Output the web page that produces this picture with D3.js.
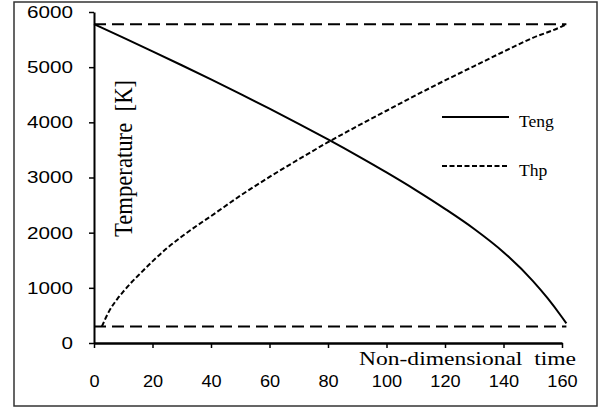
<!DOCTYPE html>
<html lang="en">
<head>
  <meta charset="UTF-8">
  <script src="https://d3js.org/d3.v7.min.js"></script>
  <style>
    body {
      margin: 0;
      background: #ffffff;
    }
    .tick-label {
      font-family: "Liberation Sans", Arial, sans-serif;
      font-size: 16.8px;
      fill: #000;
    }
    .serif {
      font-family: "Liberation Serif", "Times New Roman", serif;
      fill: #000;
    }
  </style>
</head>
<body>
  <div id="chart"></div>
  <script>
    // data
    const tengTime = [0, 10, 20, 30, 40, 50, 60, 70, 80, 90, 100, 110, 120, 130, 140, 150, 155, 160, 161.5];
    const tengTemp = [5780, 5535, 5287, 5035, 4778, 4516, 4248, 3973, 3690, 3397, 3092, 2772, 2432, 2067, 1647, 1127, 817, 467, 355];

    const thpTime = [2.7, 5, 8, 10, 13, 16, 20, 25, 30, 35, 40, 50, 60, 70, 80, 90, 100, 110, 120, 130, 140, 150, 160, 161.5];
    const thpTemp = [300, 560, 800, 930, 1110, 1270, 1480, 1720, 1930, 2120, 2300, 2670, 3010, 3330, 3640, 3930, 4210, 4490, 4760, 5020, 5280, 5530, 5740, 5780];

    const limitTime = [0, 161.5];
    const sourceTemp = 5780;
    const ambientTemp = 300;

    const xTicks = [0, 20, 40, 60, 80, 100, 120, 140, 160];
    const yTicks = [0, 1000, 2000, 3000, 4000, 5000, 6000];

    const legendNames = ["Teng", "Thp"];

    const width = 605;
    const height = 408;

    const svg = d3.select("#chart")
      .append("svg")
      .attr("width", width)
      .attr("height", height);

    // outer frame
    svg.append("rect")
      .attr("x", 14)
      .attr("y", 2)
      .attr("width", 583)
      .attr("height", 404)
      .attr("fill", "#fff")
      .attr("stroke", "#333")
      .attr("stroke-width", 1.5);

    const x = d3.scaleLinear().domain([0, 160]).range([94, 562]);
    const y = d3.scaleLinear().domain([0, 6000]).range([343, 12]);

    const line = d3.line()
      .x(d => x(d[0]))
      .y(d => y(d[1]))
      .curve(d3.curveMonotoneX);

    // horizontal reference levels
    [sourceTemp, ambientTemp].forEach(level => {
      svg.append("path")
        .datum(limitTime.map(t => [t, level]))
        .attr("d", line)
        .attr("fill", "none")
        .attr("stroke", "#000")
        .attr("stroke-width", 2)
        .attr("stroke-dasharray", "12,6");
    });

    // Teng curve
    svg.append("path")
      .datum(tengTime.map((t, i) => [t, tengTemp[i]]))
      .attr("d", line)
      .attr("fill", "none")
      .attr("stroke", "#000")
      .attr("stroke-width", 2);

    // Thp curve
    svg.append("path")
      .datum(thpTime.map((t, i) => [t, thpTemp[i]]))
      .attr("d", line)
      .attr("fill", "none")
      .attr("stroke", "#000")
      .attr("stroke-width", 2)
      .attr("stroke-dasharray", "5,2.5");

    // axes
    const xAxis = svg.append("g")
      .attr("transform", `translate(0,${y(0)})`)
      .call(d3.axisBottom(x).tickValues(xTicks).tickSize(5).tickSizeOuter(0).tickPadding(27));
    xAxis.select(".domain").attr("stroke", "#000").attr("stroke-width", 2.5);
    xAxis.selectAll(".tick line").attr("stroke", "#000").attr("stroke-width", 1.5);
    xAxis.selectAll(".tick text")
      .attr("class", "tick-label")
      .attr("lengthAdjust", "spacingAndGlyphs")
      .each(function () {
        const n = this.textContent.length;
        d3.select(this).attr("textLength", n * 10.1);
      });

    const yAxis = svg.append("g")
      .attr("transform", `translate(${x(0)},0)`)
      .call(d3.axisLeft(y).tickValues(yTicks).tickFormat(d3.format("d"))
        .tickSize(5).tickSizeOuter(0).tickPadding(16));
    yAxis.select(".domain").attr("stroke", "#000").attr("stroke-width", 2);
    yAxis.selectAll(".tick line").attr("stroke", "#000").attr("stroke-width", 1.5);
    yAxis.selectAll(".tick text")
      .attr("class", "tick-label")
      .attr("lengthAdjust", "spacingAndGlyphs")
      .each(function () {
        const n = this.textContent.length;
        d3.select(this).attr("textLength", n * 11.5);
      });
    svg.selectAll("g").attr("font-size", null).attr("font-family", null);

    // axis titles
    svg.append("text")
      .attr("class", "serif")
      .attr("x", 576)
      .attr("y", 365)
      .attr("text-anchor", "end")
      .attr("font-size", 19)
      .attr("textLength", 217)
      .attr("lengthAdjust", "spacingAndGlyphs")
      .style("white-space", "pre")
      .text("Non-dimensional  time");

    svg.append("text")
      .attr("class", "serif")
      .attr("transform", "translate(132,158.5) rotate(-90) scale(1,1.13)")
      .attr("text-anchor", "middle")
      .attr("font-size", 22.7)
      .style("white-space", "pre")
      .text("Temperature  [K]");

    // legend
    const legend = svg.append("g");
    const legendY = [117, 166];
    const legendDash = [null, "5,2.5"];
    legendNames.forEach((name, i) => {
      legend.append("line")
        .attr("x1", 442)
        .attr("x2", 509)
        .attr("y1", legendY[i])
        .attr("y2", legendY[i])
        .attr("stroke", "#000")
        .attr("stroke-width", 2)
        .attr("stroke-dasharray", legendDash[i]);
      legend.append("text")
        .attr("class", "serif")
        .attr("x", 519)
        .attr("y", legendY[i] + 10)
        .attr("font-size", 17.6)
        .text(name);
    });
  </script>
</body>
</html>
